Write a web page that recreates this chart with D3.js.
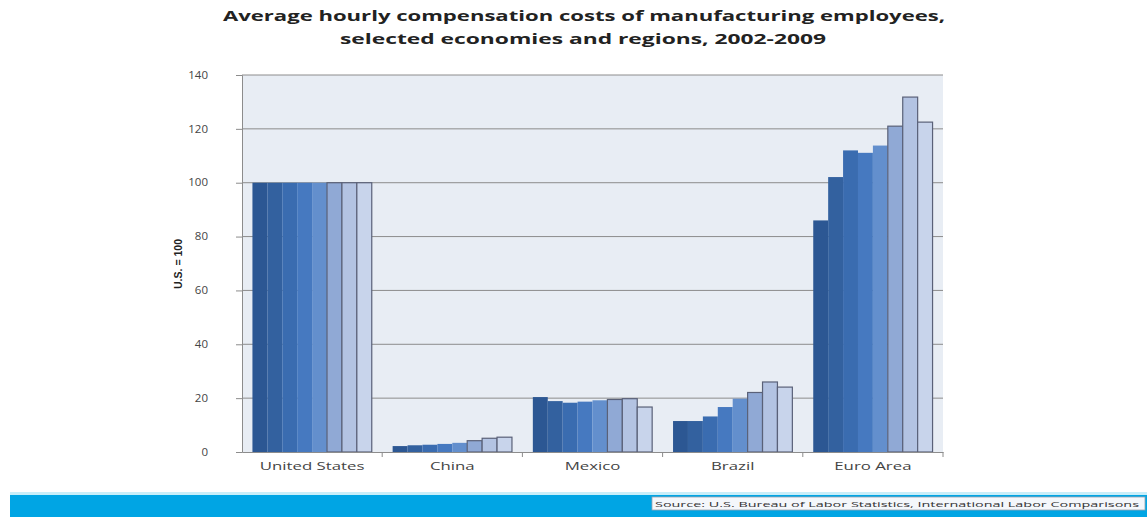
<!DOCTYPE html>
<html>
<head>
<meta charset="utf-8">
<script src="https://cdn.jsdelivr.net/npm/d3@7"></script>
<style>
  body { margin: 0; background: #fff; }
  svg { display: block; font-family: "Open Sans", "DejaVu Sans", sans-serif; }
</style>
</head>
<body>
<div id="chart"></div>
<script>
var categories = ['United States', 'China', 'Mexico', 'Brazil', 'Euro Area'];
var years = ['2002', '2003', '2004', '2005', '2006', '2007', '2008', '2009'];
var unitedStates = [100, 100, 100, 100, 100, 100, 100, 100];
var china = [2.2, 2.5, 2.7, 3.0, 3.4, 4.2, 5.1, 5.5];
var mexico = [20.4, 18.9, 18.3, 18.7, 19.2, 19.5, 19.8, 16.7];
var brazil = [11.5, 11.5, 13.2, 16.7, 19.8, 22.1, 26.0, 24.1];
var euroArea = [86.0, 102.1, 112.0, 111.1, 113.8, 121.0, 131.8, 122.5];
var yTicks = [0, 20, 40, 60, 80, 100, 120, 140];
var yearColors = ['#2c5793', '#33619f', '#3a6cb0', '#4679c0', '#638fcd', '#90a9d5', '#b3c3e2', '#c8d4eb'];

var seriesByCat = [unitedStates, china, mexico, brazil, euroArea];

var W = 1147, H = 517;
var plot = { left: 242, right: 943, top: 75, bottom: 452 };

var svg = d3.select('#chart').append('svg')
    .attr('width', W)
    .attr('height', H);

// stretch text sideways, the source picture is wider than tall
function stretch(sel, k) {
    sel.each(function () {
        var len = this.getComputedTextLength();
        d3.select(this).attr('textLength', len * k).attr('lengthAdjust', 'spacingAndGlyphs');
    });
}

// title
var title = svg.append('g')
    .attr('font-size', 14.5)
    .attr('font-weight', 'bold')
    .attr('fill', '#222')
    .attr('text-anchor', 'middle');
title.append('text').attr('x', 584).attr('y', 21)
    .attr('textLength', 722).attr('lengthAdjust', 'spacingAndGlyphs')
    .text('Average hourly compensation costs of manufacturing employees,');
title.append('text').attr('x', 583).attr('y', 44)
    .attr('textLength', 486).attr('lengthAdjust', 'spacingAndGlyphs')
    .text('selected economies and regions, 2002-2009');

var x0 = d3.scaleBand()
    .domain(categories)
    .range([plot.left, plot.right]);

var x1 = d3.scaleBand()
    .domain(years)
    .range([0, x0.bandwidth()])
    .paddingOuter(0.7);

var y = d3.scaleLinear()
    .domain([0, 140])
    .range([plot.bottom, plot.top]);

// plot background
svg.append('rect')
    .attr('x', plot.left)
    .attr('y', plot.top)
    .attr('width', plot.right - plot.left)
    .attr('height', plot.bottom - plot.top)
    .attr('fill', '#e8edf4');

// gridlines
svg.append('g')
    .selectAll('line')
    .data(yTicks.slice(1))
    .join('line')
    .attr('x1', plot.left)
    .attr('x2', plot.right)
    .attr('y1', function (d) { return y(d); })
    .attr('y2', function (d) { return y(d); })
    .attr('stroke', '#8c8c8c')
    .attr('stroke-width', 1);

// bars
var groups = svg.append('g')
    .selectAll('g')
    .data(categories)
    .join('g')
    .attr('transform', function (d) { return 'translate(' + x0(d) + ',0)'; });

groups.selectAll('rect')
    .data(function (d, i) {
        return years.map(function (yr, j) {
            return { year: yr, value: seriesByCat[i][j], idx: j };
        });
    })
    .join('rect')
    .attr('x', function (d) { return x1(d.year); })
    .attr('y', function (d) { return y(d.value); })
    .attr('width', x1.bandwidth())
    .attr('height', function (d) { return y(0) - y(d.value); })
    .attr('fill', function (d) { return yearColors[d.idx]; })
    .attr('stroke', function (d) { return d.idx >= 5 ? '#5a6178' : 'none'; })
    .attr('stroke-width', 1.2);

// y axis
var yAxis = svg.append('g')
    .attr('transform', 'translate(' + plot.left + ',0)')
    .call(d3.axisLeft(y).tickValues(yTicks).tickSize(6).tickPadding(28));
yAxis.select('.domain').attr('stroke', '#8c8c8c');
yAxis.selectAll('.tick line').attr('stroke', '#8c8c8c');
yAxis.selectAll('.tick text')
    .attr('font-size', 10)
    .attr('font-family', '"Open Sans", sans-serif')
    .attr('fill', '#444');
stretch(yAxis.selectAll('.tick text'), 1.15);

// x axis
var xAxis = svg.append('g')
    .attr('transform', 'translate(0,' + plot.bottom + ')')
    .call(d3.axisBottom(x0).tickSize(0).tickPadding(11));
xAxis.select('.domain').attr('stroke', '#8c8c8c');
xAxis.selectAll('.tick text')
    .attr('font-size', 10.5)
    .attr('font-family', '"Open Sans", sans-serif')
    .attr('fill', '#444');
stretch(xAxis.selectAll('.tick text'), 1.6);

// category boundary ticks
svg.append('g')
    .selectAll('line')
    .data(categories.slice(1).concat(['end']))
    .join('line')
    .attr('x1', function (d) { return d === 'end' ? plot.right : x0(d); })
    .attr('x2', function (d) { return d === 'end' ? plot.right : x0(d); })
    .attr('y1', plot.bottom)
    .attr('y2', plot.bottom + 5)
    .attr('stroke', '#8c8c8c');

// y axis title
svg.append('text')
    .attr('transform', 'translate(182,264) rotate(-90)')
    .attr('text-anchor', 'middle')
    .attr('font-size', 11)
    .attr('font-weight', 'bold')
    .attr('font-family', '"Liberation Sans Narrow", "Liberation Sans", sans-serif')
    .attr('fill', '#222')
    .attr('textLength', 50).attr('lengthAdjust', 'spacingAndGlyphs')
    .text('U.S. = 100');

// bottom band
svg.append('rect')
    .attr('x', 10).attr('y', 492)
    .attr('width', W - 10).attr('height', 3)
    .attr('fill', '#c8eef9');
svg.append('rect')
    .attr('x', 10).attr('y', 495)
    .attr('width', W - 10).attr('height', H - 495)
    .attr('fill', '#00a5e4');

svg.append('rect')
    .attr('x', 652).attr('y', 497)
    .attr('width', 493).attr('height', 13)
    .attr('fill', '#f4f7fb')
    .attr('stroke', '#9aa4b0')
    .attr('stroke-width', 0.8);
svg.append('text')
    .attr('x', 897).attr('y', 507)
    .attr('text-anchor', 'middle')
    .attr('font-size', 8)
    .attr('fill', '#333')
    .attr('textLength', 484).attr('lengthAdjust', 'spacingAndGlyphs')
    .text('Source: U.S. Bureau of Labor Statistics, International Labor Comparisons');
</script>
</body>
</html>
